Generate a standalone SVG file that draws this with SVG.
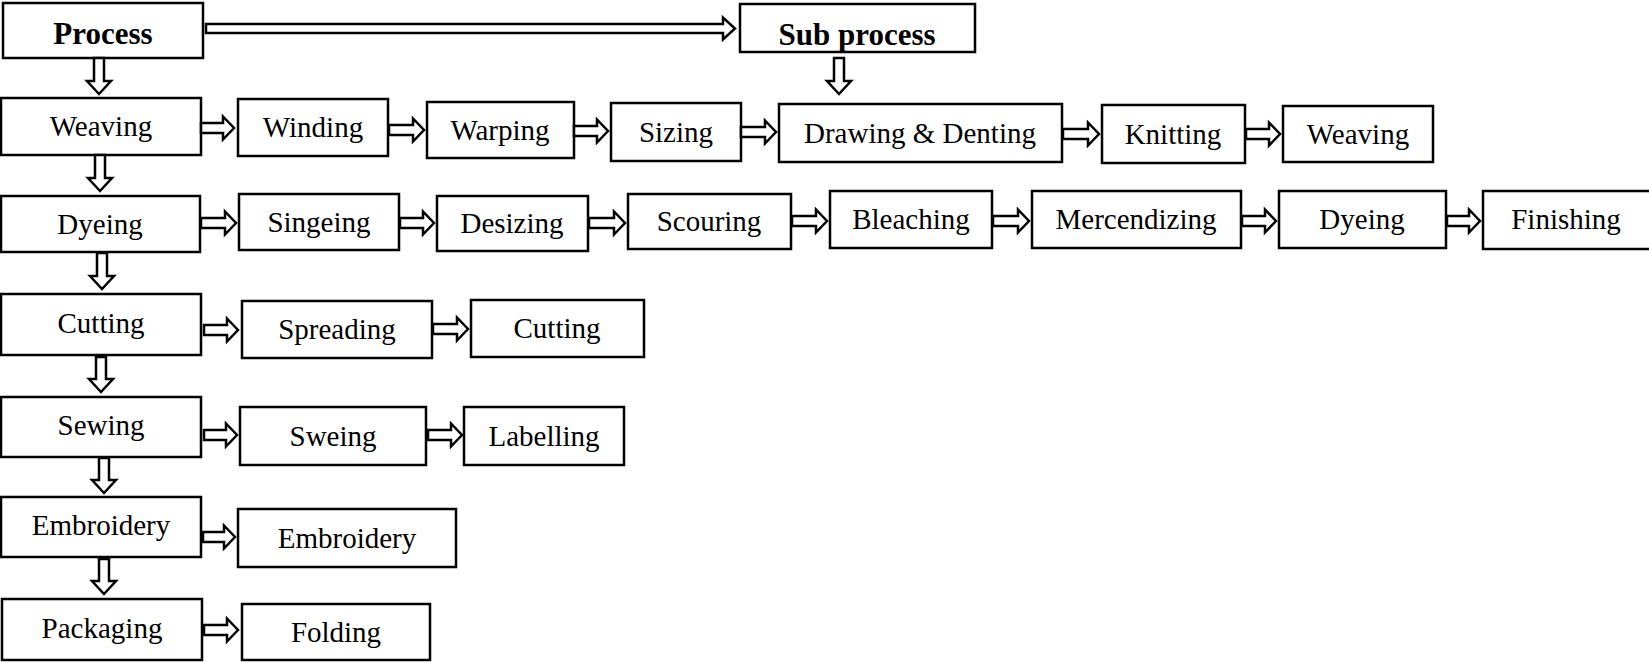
<svg xmlns="http://www.w3.org/2000/svg" width="1649" height="662" viewBox="0 0 1649 662">
  <style>
    .box { fill: #fff; stroke: #000; stroke-width: 2.5; }
    .arr { fill: #fff; stroke: #000; stroke-width: 2.5; stroke-linejoin: miter; }
    text { font-family: "Liberation Serif", "Times New Roman", serif; font-size: 29px; fill: #000; text-anchor: middle; }
    .head { font-weight: bold; font-size: 31px; }
  </style>
  <rect width="1649" height="662" fill="#fff"/>

  <!-- header -->
  <g id="process"><rect class="box" x="3" y="3" width="200" height="55"/><text class="head" x="103" y="44">Process</text></g>
  <g id="subprocess"><rect class="box" x="740" y="4" width="235" height="48"/><text class="head" x="857" y="45">Sub process</text></g>

  <!-- main process column -->
  <g id="weaving"><rect class="box" x="1" y="98" width="200" height="57"/><text x="101" y="136">Weaving</text></g>
  <g id="dyeing"><rect class="box" x="1" y="196" width="199" height="56"/><text x="100" y="234">Dyeing</text></g>
  <g id="cutting"><rect class="box" x="1" y="294" width="200" height="61"/><text x="101" y="333">Cutting</text></g>
  <g id="sewing"><rect class="box" x="1" y="397" width="200" height="60"/><text x="101" y="435">Sewing</text></g>
  <g id="embroidery"><rect class="box" x="1" y="497" width="200" height="60"/><text x="101" y="535">Embroidery</text></g>
  <g id="packaging"><rect class="box" x="2" y="599" width="200" height="61"/><text x="102" y="638">Packaging</text></g>

  <!-- weaving sub processes -->
  <g id="winding"><rect class="box" x="238" y="99" width="150" height="57"/><text x="313" y="137">Winding</text></g>
  <g id="warping"><rect class="box" x="427" y="102" width="147" height="56"/><text x="500" y="140">Warping</text></g>
  <g id="sizing"><rect class="box" x="611" y="103" width="130" height="58"/><text x="676" y="142">Sizing</text></g>
  <g id="drawing-denting"><rect class="box" x="779" y="104" width="283" height="58"/><text x="920" y="143">Drawing &amp; Denting</text></g>
  <g id="knitting"><rect class="box" x="1102" y="105" width="143" height="58"/><text x="1173" y="144">Knitting</text></g>
  <g id="weaving-sub"><rect class="box" x="1283" y="106" width="150" height="56"/><text x="1358" y="144">Weaving</text></g>

  <!-- dyeing sub processes -->
  <g id="singeing"><rect class="box" x="239" y="194" width="160" height="56"/><text x="319" y="232">Singeing</text></g>
  <g id="desizing"><rect class="box" x="437" y="196" width="151" height="55"/><text x="512" y="233">Desizing</text></g>
  <g id="scouring"><rect class="box" x="628" y="194" width="163" height="55"/><text x="709" y="231">Scouring</text></g>
  <g id="bleaching"><rect class="box" x="830" y="191" width="162" height="57"/><text x="911" y="229">Bleaching</text></g>
  <g id="mercendizing"><rect class="box" x="1032" y="191" width="209" height="57"/><text x="1136" y="229">Mercendizing</text></g>
  <g id="dyeing-sub"><rect class="box" x="1279" y="191" width="167" height="57"/><text x="1362" y="229">Dyeing</text></g>
  <g id="finishing"><rect class="box" x="1483" y="191" width="172" height="58"/><text x="1566" y="229">Finishing</text></g>

  <!-- cutting sub processes -->
  <g id="spreading"><rect class="box" x="242" y="301" width="190" height="57"/><text x="337" y="339">Spreading</text></g>
  <g id="cutting-sub"><rect class="box" x="471" y="300" width="173" height="57"/><text x="557" y="338">Cutting</text></g>

  <!-- sewing sub processes -->
  <g id="sweing"><rect class="box" x="240" y="407" width="186" height="58"/><text x="333" y="446">Sweing</text></g>
  <g id="labelling"><rect class="box" x="464" y="407" width="160" height="58"/><text x="544" y="446">Labelling</text></g>

  <!-- embroidery / packaging sub processes -->
  <g id="embroidery-sub"><rect class="box" x="238" y="509" width="218" height="58"/><text x="347" y="548">Embroidery</text></g>
  <g id="folding"><rect class="box" x="242" y="604" width="188" height="56"/><text x="336" y="642">Folding</text></g>

  <!-- block arrows -->
  <g id="connectors">
    <!-- Process to Sub process -->
    <path class="arr" d="M206,24 H723 V17.5 L735,28.5 L723,39.5 V33 H206 Z"/>
    <!-- downward arrows -->
    <path class="arr" d="M94,58 V81 H87 L99,94 L111,81 H104 V58 Z"/>
    <path class="arr" d="M95,155 V178 H88 L100,191 L112,178 H105 V155 Z"/>
    <path class="arr" d="M97,253 V276 H90 L102,289 L114,276 H107 V253 Z"/>
    <path class="arr" d="M96,357 V379 H89 L101,392 L113,379 H106 V357 Z"/>
    <path class="arr" d="M99,458 V480 H92 L104,493 L116,480 H109 V458 Z"/>
    <path class="arr" d="M99,559 V581 H92 L104,594 L116,581 H109 V559 Z"/>
    <path class="arr" d="M834,58 V81 H827 L839,94 L851,81 H844 V58 Z"/>
    <!-- weaving row -->
    <path class="arr" d="M201,123 H223 V116.5 L234,128 L223,139.5 V133 H201 Z"/>
    <path class="arr" d="M389,125 H413 V118.5 L424,130 L413,141.5 V135 H389 Z"/>
    <path class="arr" d="M574,126 H597 V119.5 L608,131 L597,142.5 V136 H574 Z"/>
    <path class="arr" d="M741,127 H765 V120.5 L776,132 L765,143.5 V137 H741 Z"/>
    <path class="arr" d="M1063,129 H1088 V122.5 L1099,134 L1088,145.5 V139 H1063 Z"/>
    <path class="arr" d="M1246,129 H1269 V122.5 L1280,134 L1269,145.5 V139 H1246 Z"/>
    <!-- dyeing row -->
    <path class="arr" d="M201,218 H225 V211.5 L236,223 L225,234.5 V228 H201 Z"/>
    <path class="arr" d="M400,218 H423 V211.5 L434,223 L423,234.5 V228 H400 Z"/>
    <path class="arr" d="M589,218 H614 V211.5 L625,223 L614,234.5 V228 H589 Z"/>
    <path class="arr" d="M792,216 H816 V209.5 L827,221 L816,232.5 V226 H792 Z"/>
    <path class="arr" d="M993,216 H1018 V209.5 L1029,221 L1018,232.5 V226 H993 Z"/>
    <path class="arr" d="M1242,216 H1265 V209.5 L1276,221 L1265,232.5 V226 H1242 Z"/>
    <path class="arr" d="M1447,216 H1469 V209.5 L1480,221 L1469,232.5 V226 H1447 Z"/>
    <!-- cutting row -->
    <path class="arr" d="M204,325 H227 V318.5 L238,330 L227,341.5 V335 H204 Z"/>
    <path class="arr" d="M433,324 H457 V317.5 L468,329 L457,340.5 V334 H433 Z"/>
    <!-- sewing row -->
    <path class="arr" d="M204,430 H226 V423.5 L237,435 L226,446.5 V440 H204 Z"/>
    <path class="arr" d="M428,430 H451 V423.5 L462,435 L451,446.5 V440 H428 Z"/>
    <!-- embroidery row -->
    <path class="arr" d="M203,532 H224 V525.5 L235,537 L224,548.5 V542 H203 Z"/>
    <!-- packaging row -->
    <path class="arr" d="M204,625 H227 V618.5 L238,630 L227,641.5 V635 H204 Z"/>
  </g>
</svg>
